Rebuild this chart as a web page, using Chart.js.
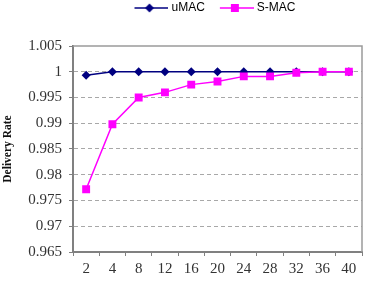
<!DOCTYPE html>
<html>
<head>
<meta charset="utf-8">
<script src="https://cdn.jsdelivr.net/npm/chart.js@4"></script>
<style>
  html, body { margin: 0; padding: 0; background: #fff; }
  #chart { display: block; }
</style>
</head>
<body>
<canvas id="chart" width="368" height="288"></canvas>
<script>
// Data
const categories = ['2', '4', '8', '12', '16', '20', '24', '28', '32', '36', '40'];
const umacRate = [0.9993, 1, 1, 1, 1, 1, 1, 1, 1, 1, 1];
const smacRate = [0.9772, 0.9898, 0.995, 0.996, 0.9975, 0.9981, 0.9991, 0.9991, 0.9998, 1, 1];
const yMin = 0.965;
const yMax = 1.005;
const yStep = 0.005;

const NAVY = '#000080';
const MAGENTA = '#ff00ff';
const SERIF = '"Liberation Serif", "Times New Roman", serif';

/**
 * Legend swatch: short line with the series marker on it
 */
function makeSwatch(color, style) {
    const c = document.createElement('canvas');
    c.width = 40;
    c.height = 12;
    const g = c.getContext('2d');
    g.strokeStyle = color;
    g.lineWidth = 1.5;
    g.beginPath();
    g.moveTo(6, 6);
    g.lineTo(40, 6);
    g.stroke();
    g.fillStyle = color;
    g.beginPath();
    if (style === 'diamond') {
        g.moveTo(21, 1.5);
        g.lineTo(25.5, 6);
        g.lineTo(21, 10.5);
        g.lineTo(16.5, 6);
        g.closePath();
    } else {
        g.rect(17, 2, 8, 8);
    }
    g.fill();
    return c;
}

const swatches = [makeSwatch(NAVY, 'diamond'), makeSwatch(MAGENTA, 'square')];

// box round the plot area, plus nudging the legend into place
const framePlugin = {
    id: 'frame',
    afterLayout(chart) {
        const lg = chart.legend;
        lg.top -= 22;
        lg.bottom -= 22;
        lg.left -= 4;
        lg.right -= 4;
    },
    beforeDatasetsDraw(chart) {
        const { ctx, chartArea: a } = chart;
        ctx.save();
        ctx.setLineDash([]);
        ctx.strokeStyle = '#9a9a9a';
        ctx.lineWidth = 1.5;
        ctx.beginPath();
        ctx.moveTo(a.left, a.top);
        ctx.lineTo(a.right, a.top);
        ctx.lineTo(a.right, a.bottom);
        ctx.stroke();
        ctx.restore();
    }
};

const ctx = document.getElementById('chart').getContext('2d');

new Chart(ctx, {
    type: 'line',
    data: {
        labels: categories,
        datasets: [{
            label: 'uMAC',
            data: umacRate,
            borderColor: NAVY,
            backgroundColor: NAVY,
            borderWidth: 1.5,
            pointStyle: 'rectRot',
            pointRadius: 4.5,
            pointBorderWidth: 0,
            tension: 0,
            order: 2
        }, {
            label: 'S-MAC',
            data: smacRate,
            borderColor: MAGENTA,
            backgroundColor: MAGENTA,
            borderWidth: 1.5,
            pointStyle: 'rect',
            pointRadius: 5.6,
            pointBorderWidth: 0,
            tension: 0,
            order: 1
        }]
    },
    options: {
        responsive: false,
        animation: false,
        layout: {
            padding: { top: 12, left: 0, right: 6, bottom: 0 }
        },
        scales: {
            x: {
                offset: true,
                afterFit: function(scale) {
                    scale.height = 36;
                },
                grid: {
                    offset: true,
                    drawOnChartArea: false,
                    drawTicks: true,
                    tickLength: 4,
                    color: '#808080',
                    lineWidth: 1
                },
                border: {
                    color: '#808080',
                    width: 2
                },
                ticks: {
                    font: { family: SERIF, size: 15 },
                    color: '#333',
                    padding: 4,
                    maxRotation: 0,
                    autoSkip: false
                }
            },
            y: {
                min: yMin,
                max: yMax,
                afterFit: function(scale) {
                    scale.width = 73;
                },
                afterBuildTicks: function(scale) {
                    const t = [];
                    for (let i = 0; i <= Math.round((yMax - yMin) / yStep); i++) {
                        t.push({ value: +(yMin + i * yStep).toFixed(3) });
                    }
                    scale.ticks = t;
                },
                grid: {
                    color: function(c) {
                        return c.index === 0 || c.tick.value >= yMax ? 'rgba(0,0,0,0)' : '#a8a8a8';
                    },
                    lineWidth: 1,
                    tickLength: 4,
                    tickColor: '#808080',
                    tickBorderDash: []
                },
                border: {
                    color: '#808080',
                    width: 2,
                    dash: [4, 3]
                },
                title: {
                    display: true,
                    text: 'Delivery Rate',
                    font: { family: SERIF, size: 11.5, weight: 'bold' },
                    color: '#111',
                    padding: { top: 1, bottom: 0 }
                },
                ticks: {
                    font: { family: SERIF, size: 15 },
                    color: '#333',
                    padding: 7,
                    callback: function(value) {
                        return String(+value.toFixed(3));
                    }
                }
            }
        },
        plugins: {
            legend: {
                position: 'top',
                fullSize: false,
                labels: {
                    usePointStyle: true,
                    pointStyleWidth: 34,
                    padding: 12,
                    color: '#111',
                    font: { family: '"Liberation Sans", Arial, sans-serif', size: 12 },
                    generateLabels: function(chart) {
                        return chart.data.datasets.map(function(ds, i) {
                            return {
                                text: ds.label,
                                pointStyle: swatches[i],
                                fillStyle: ds.borderColor,
                                strokeStyle: ds.borderColor,
                                lineWidth: 0,
                                hidden: false,
                                datasetIndex: i
                            };
                        });
                    }
                }
            },
            tooltip: { enabled: false }
        }
    },
    plugins: [framePlugin]
});
</script>
</body>
</html>
